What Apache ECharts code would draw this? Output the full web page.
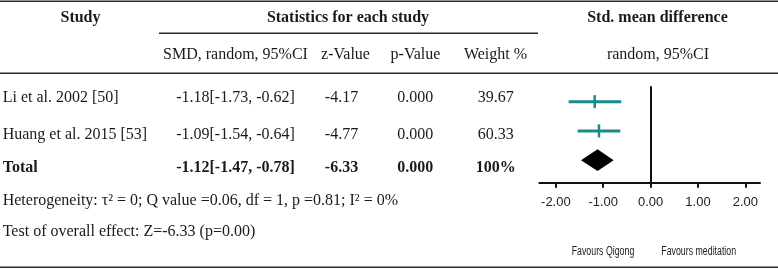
<!DOCTYPE html>
<html>
<head>
<meta charset="utf-8">
<title>Forest plot</title>
<script src="https://cdn.jsdelivr.net/npm/echarts@6/dist/echarts.min.js"></script>
<style>
  html, body { margin: 0; padding: 0; background: #fff; }
  #main { width: 778px; height: 269px; }
</style>
</head>
<body>
<div id="main"></div>
<script>
// 研究数据
var studies = ['Li et al. 2002 [50]', 'Huang et al. 2015 [53]'];
var smd = [-1.18, -1.09];
var lower = [-1.73, -1.54];
var upper = [-0.62, -0.64];
var zValues = ['-4.17', '-4.77'];
var pValues = ['0.000', '0.000'];
var weights = ['39.67', '60.33'];

// 合并结果
var total = { smd: -1.12, lower: -1.47, upper: -0.78, z: '-6.33', p: '0.000', weight: '100%' };

var xTicks = [-2, -1, 0, 1, 2];
var heterogeneity = 'Heterogeneity: τ² = 0; Q value =0.06, df = 1, p =0.81; I² = 0%';
var overall = 'Test of overall effect: Z=-6.33 (p=0.00)';

var teal = '#1b8a8b';
var serif = '"Liberation Serif", "Times New Roman", serif';
var sans = '"Liberation Sans", Arial, sans-serif';

function ci(m, l, u) {
  return m.toFixed(2) + '[' + l.toFixed(2) + ', ' + u.toFixed(2) + ']';
}

function txt(x, y, s, opt) {
  opt = opt || {};
  var el = {
    type: 'text', x: x, y: y, silent: true,
    style: {
      text: s, fill: '#1a1a1a',
      font: (opt.bold ? 'bold ' : '') + (opt.size || 16) + 'px ' + (opt.family || serif),
      align: opt.align || 'center', verticalAlign: 'middle'
    }
  };
  if (opt.sx) { el.scaleX = opt.sx; el.scaleY = opt.sy || 1; }
  return el;
}
function hline(x1, x2, y) {
  return { type: 'line', silent: true, shape: { x1: x1, y1: y, x2: x2, y2: y }, style: { stroke: '#2a2a2a', lineWidth: 1.5 } };
}

var colX = { smd: 235.5, z: 341.5, p: 415.3, w: 495.7 };
var rowY = [98, 134.7];

var graphics = [
  hline(0, 778, 1.3),
  hline(159, 538, 33.3),
  hline(0, 778, 73.3),
  hline(0, 778, 267.3),
  txt(80.5, 17.5, 'Study', { bold: true }),
  txt(348, 17.5, 'Statistics for each study', { bold: true }),
  txt(657.5, 17.5, 'Std. mean difference', { bold: true }),
  txt(235.5, 55, 'SMD, random, 95%CI'),
  txt(345.5, 55, 'z-Value'),
  txt(415.5, 55, 'p-Value'),
  txt(495.5, 55, 'Weight %'),
  txt(658, 55, 'random, 95%CI'),
  txt(2.7, 168, 'Total', { bold: true, align: 'left' }),
  txt(colX.smd, 168, ci(total.smd, total.lower, total.upper), { bold: true }),
  txt(colX.z, 168, total.z, { bold: true }),
  txt(colX.p, 168, total.p, { bold: true }),
  txt(colX.w, 168, total.weight, { bold: true }),
  txt(2.7, 200.5, heterogeneity, { align: 'left' }),
  txt(2.7, 232, overall, { align: 'left' }),
  txt(603, 251.7, 'Favours Qigong', { size: 11, family: sans, sx: 0.8, sy: 1.15 }),
  txt(698.7, 251.7, 'Favours meditation', { size: 11, family: sans, sx: 0.8, sy: 1.15 })
];
for (var i = 0; i < studies.length; i++) {
  graphics.push(txt(2.7, rowY[i], studies[i], { align: 'left' }));
  graphics.push(txt(colX.smd, rowY[i], ci(smd[i], lower[i], upper[i])));
  graphics.push(txt(colX.z, rowY[i], zValues[i]));
  graphics.push(txt(colX.p, rowY[i], pValues[i]));
  graphics.push(txt(colX.w, rowY[i], weights[i]));
}

var studyData = studies.map(function (s, i) { return [smd[i], lower[i], upper[i], i + 1]; });
var totalData = [[total.smd, total.lower, total.upper, studies.length + 1]];

var myChart = echarts.init(document.getElementById('main'));
var option = {
  animation: false,
  backgroundColor: '#fff',
  grid: { left: 539.3, right: 18, top: 87, bottom: 86.3 },
  xAxis: {
    type: 'value', min: -2.35, max: 2.31,
    splitLine: { show: false },
    axisLine: { show: true, onZero: false, lineStyle: { color: '#111', width: 2 } },
    axisTick: { show: true, customValues: xTicks, length: 5, lineStyle: { color: '#111', width: 2 } },
    axisLabel: {
      customValues: xTicks, margin: 13, color: '#222', fontSize: 13, fontFamily: sans,
      formatter: function (v) { return v.toFixed(2); }
    }
  },
  yAxis: {
    type: 'value', inverse: true, min: 0.5, max: 3.77,
    splitLine: { show: false },
    axisLabel: { show: false },
    axisTick: { show: false },
    axisLine: { show: true, onZero: true, lineStyle: { color: '#111', width: 2 } }
  },
  series: [
    {
      type: 'custom',
      data: studyData,
      renderItem: function (params, api) {
        var lo = api.coord([api.value(1), api.value(3)]);
        var hi = api.coord([api.value(2), api.value(3)]);
        var mid = api.coord([api.value(0), api.value(3)]);
        return {
          type: 'group',
          children: [
            { type: 'line', shape: { x1: lo[0], y1: lo[1], x2: hi[0], y2: hi[1] }, style: { stroke: teal, lineWidth: 3 } },
            { type: 'line', shape: { x1: mid[0], y1: mid[1] - 6.5, x2: mid[0], y2: mid[1] + 6.5 }, style: { stroke: teal, lineWidth: 2.5 } }
          ]
        };
      }
    },
    {
      type: 'custom',
      data: totalData,
      renderItem: function (params, api) {
        var lo = api.coord([api.value(1), api.value(3)]);
        var hi = api.coord([api.value(2), api.value(3)]);
        var mid = api.coord([api.value(0), api.value(3)]);
        return {
          type: 'polygon',
          shape: { points: [lo, [mid[0], mid[1] - 10.8], hi, [mid[0], mid[1] + 10.8]] },
          style: { fill: '#000' }
        };
      }
    }
  ],
  graphic: graphics
};
myChart.setOption(option);
window.addEventListener('resize', function () {
  myChart.resize();
});
</script>
</body>
</html>
